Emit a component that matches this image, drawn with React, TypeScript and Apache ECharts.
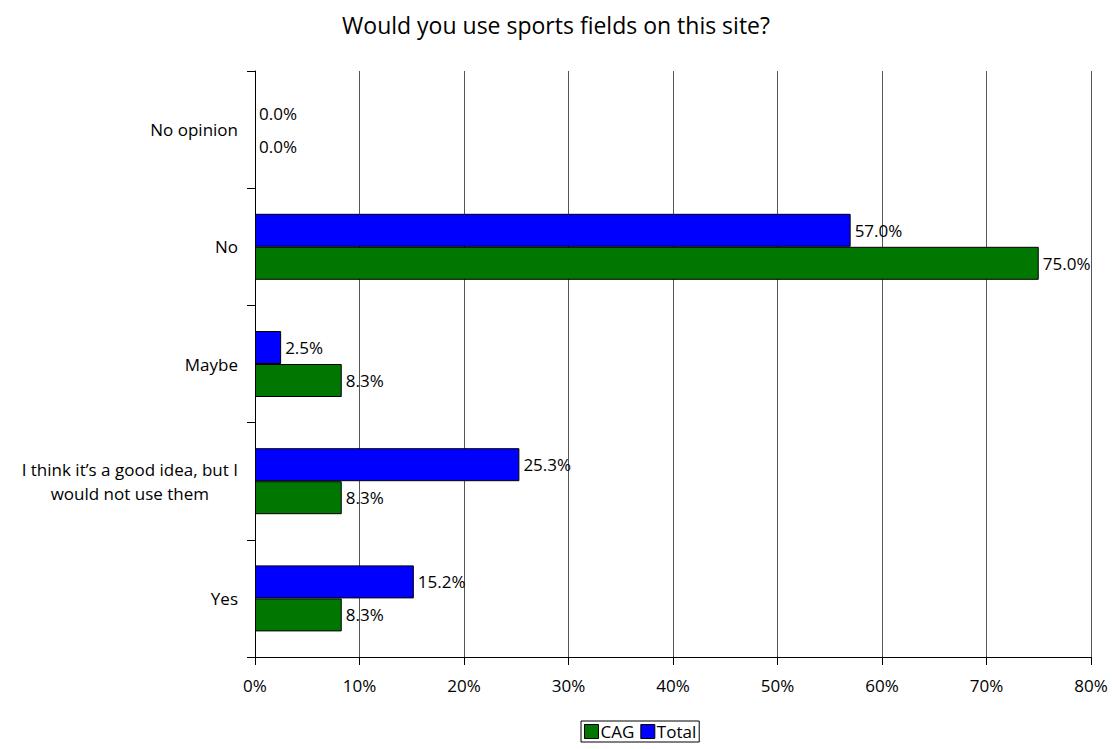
import React, { useEffect, useRef } from "react";
import * as echarts from "echarts";

const categories = [
  "Yes",
  "I think it’s a good idea, but I\nwould not use them",
  "Maybe",
  "No",
  "No opinion",
];
const totalValues = [15.2, 25.3, 2.5, 57.0, 0.0];
const cagValues = [8.3, 8.3, 8.3, 75.0, 0.0];
const xTicks = [0, 10, 20, 30, 40, 50, 60, 70, 80];

const FONT = "Open Sans";
const FS = 17;

const toItems = (vals: number[]) =>
  vals.map((v) => (v === 0 ? { value: v, itemStyle: { borderWidth: 0 } } : v));

export default function App() {
  const ref = useRef<HTMLDivElement>(null);
  useEffect(() => {
    if (!ref.current) return;
    const chart = echarts.init(ref.current, null, { renderer: "svg" });
    const labelCfg = {
      show: true,
      position: "right",
      distance: 4,
      color: "#000",
      fontFamily: FONT,
      fontSize: FS,
      formatter: (p: any) => Number(p.value).toFixed(1) + "%",
    };
    chart.setOption({
      animation: false,
      backgroundColor: "#fff",
      title: {
        text: "Would you use sports fields on this site?",
        left: "center",
        top: 8,
        textStyle: { fontFamily: FONT, fontSize: 23, fontWeight: "normal", color: "#000" },
      },
      legend: {
        data: ["CAG", "Total"],
        top: 721,
        left: 581,
        icon: "rect",
        itemWidth: 14,
        itemHeight: 14,
        itemGap: 6,
        padding: [2, 3, 2, 3],
        borderColor: "#000",
        borderWidth: 1,
        borderRadius: 0,
        textStyle: { fontFamily: FONT, fontSize: FS, color: "#000", padding: [0, 0, 0, -3] },
        itemStyle: { borderColor: "#000", borderWidth: 1 },
      },
      grid: { left: 255, right: 21, top: 71, bottom: 92, containLabel: false },
      xAxis: {
        type: "value",
        min: 0,
        max: 80,
        interval: 10,
        axisLine: { show: true, lineStyle: { color: "#000", width: 1 } },
        axisTick: { show: true, length: 8, lineStyle: { color: "#000" } },
        axisLabel: {
          fontFamily: FONT,
          fontSize: FS,
          color: "#000",
          margin: 20,
          formatter: (v: number) => (xTicks.includes(v) ? v + "%" : ""),
        },
        splitLine: { show: true, lineStyle: { color: "#555", width: 1 } },
      },
      yAxis: {
        type: "category",
        data: categories,
        axisLine: { show: true, lineStyle: { color: "#000", width: 1 } },
        axisTick: { show: true, length: 8, alignWithLabel: false, lineStyle: { color: "#000" } },
        axisLabel: {
          fontFamily: FONT,
          fontSize: FS,
          color: "#000",
          margin: 17,
          lineHeight: 24,
          formatter: (v: string) => "{c|" + v + "}",
          rich: { c: { align: "center", fontFamily: FONT, fontSize: FS, color: "#000", lineHeight: 24 } },
        },
        splitLine: { show: false },
      },
      series: [
        {
          name: "Total",
          type: "bar",
          data: toItems(totalValues),
          barWidth: 33,
          barGap: "0%",
          itemStyle: { color: "#0000ff", borderColor: "#000", borderWidth: 1 },
          label: labelCfg,
        },
        {
          name: "CAG",
          type: "bar",
          data: toItems(cagValues),
          barWidth: 33,
          barGap: "0%",
          itemStyle: { color: "#007700", borderColor: "#000", borderWidth: 1 },
          label: labelCfg,
        },
      ],
    });
    return () => chart.dispose();
  }, []);
  return <div ref={ref} style={{ width: 1112, height: 749, position: "absolute", left: 0, top: 0 }} />;
}
